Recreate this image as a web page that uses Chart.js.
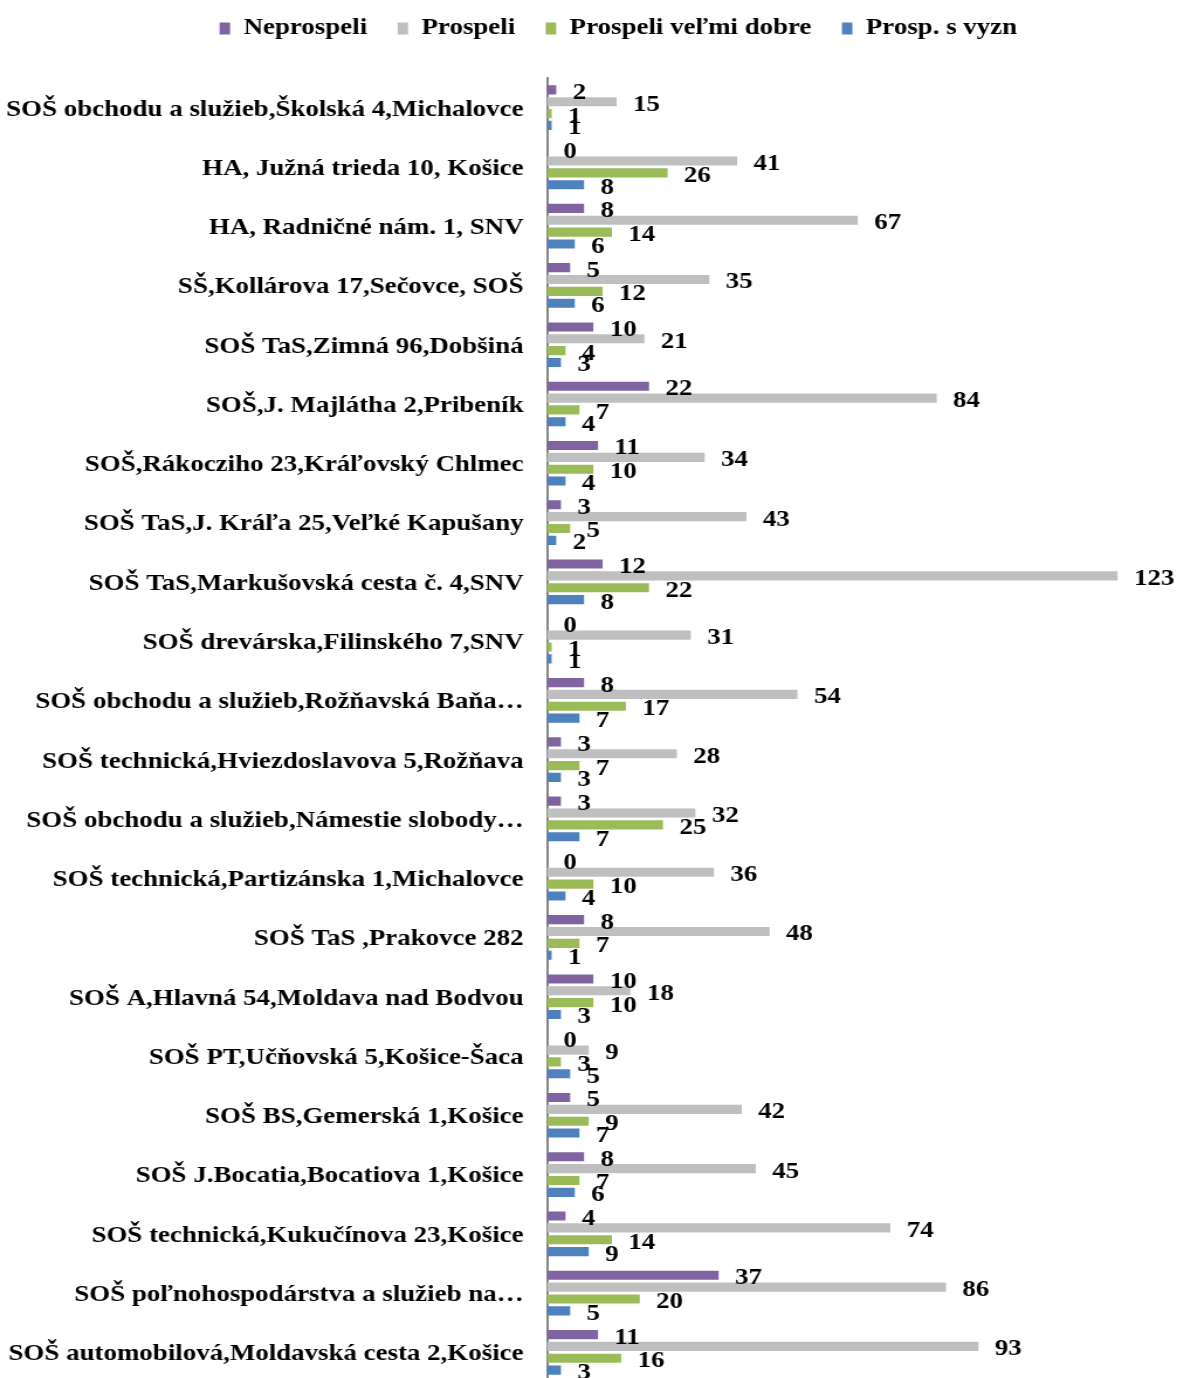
<!DOCTYPE html>
<html>
<head>
<meta charset="utf-8">
<script src="https://cdn.jsdelivr.net/npm/chart.js@4"></script>
<style>
  html, body { margin: 0; padding: 0; background: #fff; overflow: hidden; }
  /* the original picture is stretched sideways, so the chart is too */
  #wrap { width: 1006px; height: 1382px; transform: scaleX(1.17); transform-origin: 0 0; }
  #barChart { width: 1006px; height: 1382px; display: block; }
</style>
</head>
<body>
<div id="wrap"><canvas id="barChart" width="1006" height="1382"></canvas></div>
<script>
const schools = [
    'SOŠ obchodu a služieb,Školská 4,Michalovce',
    'HA, Južná trieda 10, Košice',
    'HA, Radničné nám. 1, SNV',
    'SŠ,Kollárova 17,Sečovce, SOŠ',
    'SOŠ TaS,Zimná 96,Dobšiná',
    'SOŠ,J. Majlátha 2,Pribeník',
    'SOŠ,Rákocziho 23,Kráľovský Chlmec',
    'SOŠ TaS,J. Kráľa 25,Veľké Kapušany',
    'SOŠ TaS,Markušovská cesta č. 4,SNV',
    'SOŠ drevárska,Filinského 7,SNV',
    'SOŠ obchodu a služieb,Rožňavská Baňa…',
    'SOŠ technická,Hviezdoslavova 5,Rožňava',
    'SOŠ obchodu a služieb,Námestie slobody…',
    'SOŠ technická,Partizánska 1,Michalovce',
    'SOŠ TaS ,Prakovce 282',
    'SOŠ A,Hlavná 54,Moldava nad Bodvou',
    'SOŠ PT,Učňovská 5,Košice-Šaca',
    'SOŠ BS,Gemerská 1,Košice',
    'SOŠ J.Bocatia,Bocatiova 1,Košice',
    'SOŠ technická,Kukučínova 23,Košice',
    'SOŠ poľnohospodárstva a služieb na…',
    'SOŠ automobilová,Moldavská cesta 2,Košice'
];

const neprospeli = [2, 0, 8, 5, 10, 22, 11, 3, 12, 0, 8, 3, 3, 0, 8, 10, 0, 5, 8, 4, 37, 11];
const prospeli   = [15, 41, 67, 35, 21, 84, 34, 43, 123, 31, 54, 28, 32, 36, 48, 18, 9, 42, 45, 74, 86, 93];
const velmiDobre = [1, 26, 14, 12, 4, 7, 10, 5, 22, 1, 17, 7, 25, 10, 7, 10, 3, 9, 7, 14, 20, 16];
const sVyzn      = [1, 8, 6, 6, 3, 4, 4, 2, 8, 1, 7, 3, 7, 4, 1, 3, 5, 7, 6, 9, 5, 3];

const serif = '"Liberation Serif", "Times New Roman", serif';
const padTop = -9;

// numbers next to the bar ends
const valueLabels = {
    id: 'valueLabels',
    afterDatasetsDraw(chart) {
        const ctx = chart.ctx;
        ctx.save();
        ctx.font = 'bold 23px ' + serif;
        ctx.fillStyle = '#000';
        ctx.textAlign = 'left';
        ctx.textBaseline = 'middle';
        chart.data.datasets.forEach((ds, i) => {
            chart.getDatasetMeta(i).data.forEach((bar, j) => {
                ctx.fillText(ds.data[j], bar.x + 14, bar.y + 3);
            });
        });
        ctx.restore();
    }
};

// room under the legend, and legend moved a bit to the right
const legendSpace = {
    id: 'legendSpace',
    beforeInit(chart) {
        const fit = chart.legend.fit;
        chart.legend.fit = function() {
            fit.bind(chart.legend)();
            this.height = 78 - padTop;
        };
    },
    afterLayout(chart) {
        chart.legend.left += 37;
        chart.legend.right += 37;
    }
};

const ctx = document.getElementById('barChart').getContext('2d');
const barChart = new Chart(ctx, {
    type: 'bar',
    data: {
        labels: schools,
        datasets: [
            { label: 'Neprospeli', data: neprospeli, backgroundColor: '#8064A2' },
            { label: 'Prospeli', data: prospeli, backgroundColor: '#BFBFBF' },
            { label: 'Prospeli veľmi dobre', data: velmiDobre, backgroundColor: '#9BBB59' },
            { label: 'Prosp. s vyzn', data: sVyzn, backgroundColor: '#4F81BD' }
        ]
    },
    options: {
        indexAxis: 'y',
        responsive: false,
        animation: false,
        devicePixelRatio: 1,
        datasets: {
            bar: { barPercentage: 0.77, categoryPercentage: 0.8 }
        },
        layout: { padding: { top: padTop, left: 0, right: 23, bottom: 0 } },
        scales: {
            x: { display: false, min: 0, max: 130 },
            y: {
                grid: { display: false, drawTicks: false },
                border: { display: true, color: '#868686', width: 2 },
                ticks: {
                    padding: 20,
                    labelOffset: 2,
                    color: '#000',
                    font: { family: serif, size: 23, weight: 'bold' }
                },
                afterFit: function(scale) {
                    scale.width = 467.5;
                    scale.paddingTop = 0;
                    scale.paddingBottom = 0;
                }
            }
        },
        plugins: {
            legend: {
                position: 'top',
                labels: {
                    boxWidth: 9,
                    boxHeight: 12,
                    padding: 26,
                    color: '#000',
                    font: { family: serif, size: 23, weight: 'bold' }
                }
            },
            tooltip: { enabled: false }
        }
    },
    plugins: [valueLabels, legendSpace]
});
</script>
</body>
</html>
